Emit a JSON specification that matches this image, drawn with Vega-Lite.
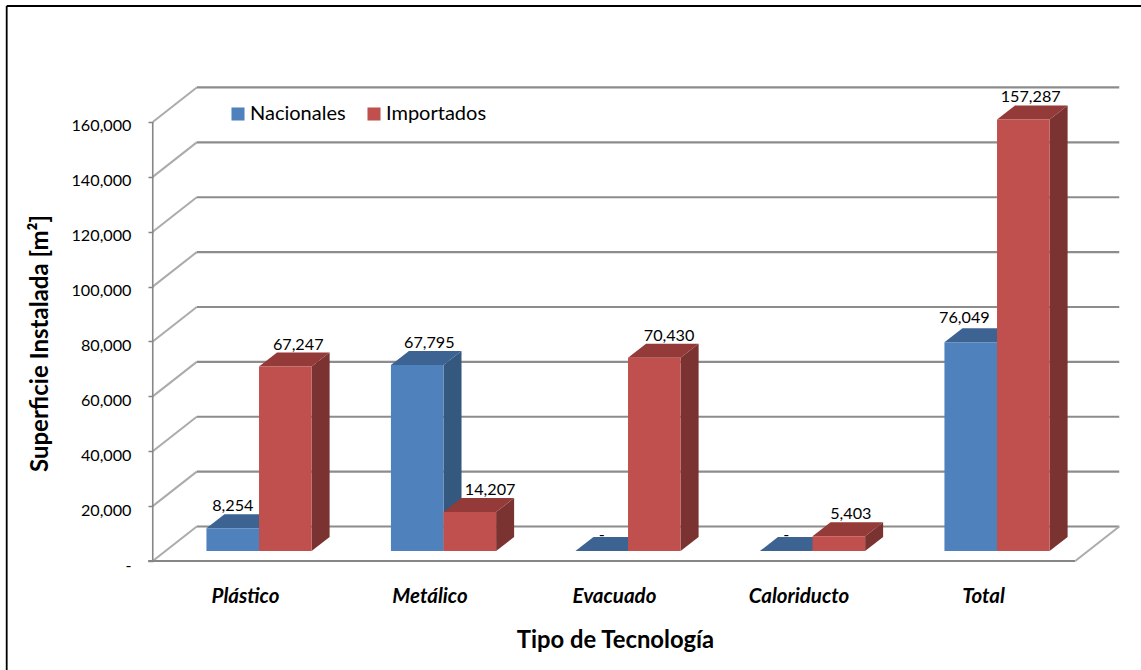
{
"$schema":"https://vega.github.io/schema/vega-lite/v6.json",
"width":1141,"height":670,"padding":0,"autosize":{"type":"none"},
"background":"white",
"config":{"view":{"stroke":null},"font":"Lato"},
"data":{"values":[
{"tipo":"Plástico","serie":"Nacionales","valor":8254},
{"tipo":"Plástico","serie":"Importados","valor":67247},
{"tipo":"Metálico","serie":"Nacionales","valor":67795},
{"tipo":"Metálico","serie":"Importados","valor":14207},
{"tipo":"Evacuado","serie":"Nacionales","valor":0},
{"tipo":"Evacuado","serie":"Importados","valor":70430},
{"tipo":"Caloriducto","serie":"Nacionales","valor":0},
{"tipo":"Caloriducto","serie":"Importados","valor":5403},
{"tipo":"Total","serie":"Nacionales","valor":76049},
{"tipo":"Total","serie":"Importados","valor":157287}
]},
"transform":[
{"calculate":"indexof(['Plástico','Metálico','Evacuado','Caloriducto','Total'],datum.tipo)","as":"i"},
{"calculate":"datum.i+(datum.serie==='Nacionales'?-0.209:0.076)","as":"xl"},
{"calculate":"datum.xl+0.285","as":"xr"},
{"calculate":"3640","as":"base"},
{"calculate":"datum.base+datum.valor","as":"top"},
{"calculate":"[0,1]","as":"t"},
{"flatten":["t"]},
{"calculate":"datum.xl+datum.t*0.0976","as":"tx1"},
{"calculate":"datum.xr+datum.t*0.0976","as":"tx2"},
{"calculate":"datum.top+datum.t*5100","as":"ty"},
{"calculate":"datum.base+datum.t*5100","as":"by"},
{"calculate":"datum.i+(datum.serie==='Nacionales'?-0.066:0.076)+({'Plástico|Nacionales':0,'Plástico|Importados':0.07,'Metálico|Nacionales':0.065,'Metálico|Importados':0.11,'Evacuado|Nacionales':0,'Evacuado|Importados':0.08,'Caloriducto|Nacionales':0,'Caloriducto|Importados':0.065,'Total|Nacionales':-0.035,'Total|Importados':0.04})[datum.tipo+'|'+datum.serie]+(datum.serie==='Importados'?0.1425:0)","as":"lx"},
{"calculate":"datum.valor===0?datum.base+5800:datum.tipo==='Total'&&datum.serie==='Nacionales'?datum.top+9000:datum.top+8000","as":"ly"},
{"calculate":"datum.valor===0?'-':format(datum.valor,',')","as":"etq"}
],
"layer":[
{"data":{"values":[{"a":1}]},"transform":[],"mark":{"type":"rule","color":"#000000","strokeWidth":1.8},
 "encoding":{"x":{"datum":-1.2916,"type":"quantitative","scale":{"domain":[-1.32791,4.85637],"range":[0,1141],"nice":false,"zero":false},
   "axis":{"orient":"bottom","offset":-109,"values":[0,1,2,3,4],"labelExpr":"['Plástico','Metálico','Evacuado','Caloriducto','Total'][datum.value]","ticks":false,"domain":false,"grid":false,"labelPadding":25,"labelFont":"Lato","labelFontSize":20.5,"labelFontWeight":"bold","labelFontStyle":"italic","labelColor":"#000000","title":"Tipo de Tecnología","titleFont":"Lato","titleFontSize":23.8,"titleFontWeight":"bold","titleColor":"#000000","titleX":615,"titleY":79,"titleBaseline":"middle","labelOverlap":false}},
  "y":{"datum":-39723,"type":"quantitative","scale":{"domain":[-39723,204446],"range":[670,0],"nice":false,"zero":false},
   "axis":{"orient":"left","offset":-153,"values":[0,20000,40000,60000,80000,100000,120000,140000,160000],"labelExpr":"datum.value===0?'-':format(datum.value,',')","tickSize":5,"tickColor":"#868686","tickWidth":1.5,"domain":false,"grid":false,"labelPadding":17,"labelOffset":4,"labelFont":"Lato","labelFontSize":16.2,"labelColor":"#000000","title":"Superficie Instalada [m²]","titleFont":"Lato","titleFontSize":24,"titleFontWeight":"bold","titleColor":"#000000","titleX":-113,"titleY":343,"titleBaseline":"middle","titleAngle":-90,"labelOverlap":false}},
  "y2":{"datum":202259}}},
{"data":{"values":[{"a":1}]},"transform":[],"mark":{"type":"rule","color":"#000000","strokeWidth":1.8},
 "encoding":{"x":{"datum":-1.2916,"type":"quantitative"},"x2":{"datum":4.85637},"y":{"datum":202259,"type":"quantitative"}}},
{"data":{"values":[{"v":0},{"v":20000},{"v":40000},{"v":60000},{"v":80000},{"v":100000},{"v":120000},{"v":140000},{"v":160000}]},
 "transform":[{"calculate":"datum.v+12570","as":"vb"},{"calculate":"-0.5","as":"x0"},{"calculate":"-0.2615","as":"x1"},{"calculate":"4.7385","as":"x2"}],
 "layer":[
  {"mark":{"type":"rule","color":"#ABABAB","strokeWidth":2},"encoding":{"x":{"field":"x0","type":"quantitative"},"x2":{"field":"x1"},"y":{"field":"v","type":"quantitative"},"y2":{"field":"vb"}}},
  {"mark":{"type":"rule","color":"#8C8C8C","strokeWidth":2.2},"encoding":{"x":{"field":"x1","type":"quantitative"},"x2":{"field":"x2"},"y":{"field":"vb","type":"quantitative"}}}
 ]},
{"data":{"values":[{"a":1}]},"transform":[],"mark":{"type":"rule","color":"#868686","strokeWidth":1.6},"encoding":{"x":{"datum":-0.5,"type":"quantitative"},"y":{"datum":0,"type":"quantitative"},"y2":{"datum":160000}}},
{"data":{"values":[{"a":1}]},"transform":[],"mark":{"type":"rule","color":"#868686","strokeWidth":2},"encoding":{"x":{"datum":-0.525,"type":"quantitative"},"x2":{"datum":4.5},"y":{"datum":0,"type":"quantitative"}}},
{"data":{"values":[{"a":1}]},"transform":[],"mark":{"type":"rule","color":"#ABABAB","strokeWidth":2},"encoding":{"x":{"datum":4.5,"type":"quantitative"},"x2":{"datum":4.7385},"y":{"datum":0,"type":"quantitative"},"y2":{"datum":12570}}},

{"transform":[{"filter":"datum.serie==='Nacionales'"}],"mark":{"type":"area","orient":"vertical","color":"#35587F"},"encoding":{"detail":{"field":"tipo"},"x":{"field":"tx2","type":"quantitative"},"y":{"field":"by","type":"quantitative"},"y2":{"field":"ty"}}},
{"transform":[{"filter":"datum.serie==='Nacionales'"}],"mark":{"type":"area","orient":"horizontal","color":"#3D6393"},"encoding":{"detail":{"field":"tipo"},"y":{"field":"ty","type":"quantitative"},"x":{"field":"tx1","type":"quantitative"},"x2":{"field":"tx2"}}},
{"transform":[{"filter":"datum.serie==='Nacionales' && datum.t===0"}],"mark":{"type":"rect"},"encoding":{"x":{"field":"xl","type":"quantitative"},"x2":{"field":"xr"},"y":{"field":"base","type":"quantitative"},"y2":{"field":"top"},
 "color":{"field":"serie","type":"nominal","scale":{"domain":["Nacionales","Importados"],"range":["#4F81BD","#C0504D"]},
  "legend":{"orient":"none","legendX":228,"legendY":104,"direction":"horizontal","title":null,"symbolType":"square","symbolSize":170,"symbolStrokeWidth":0,"labelFont":"Lato","labelFontSize":20,"labelColor":"#000000","labelOffset":2,"columnPadding":18}}}},
{"transform":[{"filter":"datum.serie==='Importados'"}],"mark":{"type":"area","orient":"vertical","color":"#7B3331"},"encoding":{"detail":{"field":"tipo"},"x":{"field":"tx2","type":"quantitative"},"y":{"field":"by","type":"quantitative"},"y2":{"field":"ty"}}},
{"transform":[{"filter":"datum.serie==='Importados'"}],"mark":{"type":"area","orient":"horizontal","color":"#943A38"},"encoding":{"detail":{"field":"tipo"},"y":{"field":"ty","type":"quantitative"},"x":{"field":"tx1","type":"quantitative"},"x2":{"field":"tx2"}}},
{"transform":[{"filter":"datum.serie==='Importados' && datum.t===0"}],"mark":{"type":"rect"},"encoding":{"x":{"field":"xl","type":"quantitative"},"x2":{"field":"xr"},"y":{"field":"base","type":"quantitative"},"y2":{"field":"top"},"color":{"field":"serie","type":"nominal"}}},
{"transform":[{"filter":"datum.t===0"}],"mark":{"type":"text","font":"Lato","fontSize":16.2,"color":"#000000","baseline":"middle","align":"center"},"encoding":{"x":{"field":"lx","type":"quantitative"},"y":{"field":"ly","type":"quantitative"},"text":{"field":"etq"}}}
]
}
